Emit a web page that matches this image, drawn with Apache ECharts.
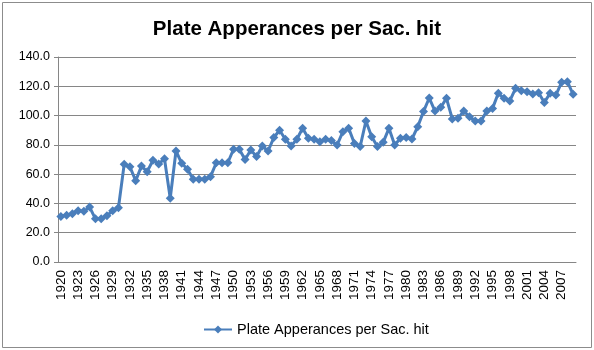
<!DOCTYPE html>
<html><head><meta charset="utf-8">
<script src="https://cdn.jsdelivr.net/npm/echarts@6/dist/echarts.min.js"></script>
<style>html,body{margin:0;padding:0;background:#fff}#c{width:594px;height:350px}</style>
</head><body><div id="c"></div>
<script>
const title = 'Plate Apperances per Sac. hit';
const seriesName = 'Plate Apperances per Sac. hit';
const years = [];
for (let y = 1920; y <= 2009; y++) years.push(String(y));
const values = [
  31, 32, 33, 35, 34.6, 37.5, 29.5, 29.5, 31.6, 35,
  37, 66.7, 65, 55.5, 65.5, 61.7, 69.5, 67, 70.5, 43.5,
  75.8, 67.4, 63.3, 56.5, 56.5, 56.5, 58.3, 67.8, 67.8, 67.8,
  77, 77, 70, 76.5, 72, 79.2, 75.8, 85, 90, 83.8,
  79.2, 83.8, 91.3, 84.5, 83.8, 82.2, 83.8, 82.9, 79.9, 89,
  91.3, 81, 78.8, 96.3, 85.6, 78.8, 81.7, 91.3, 79.9, 84.5,
  85.1, 84, 92.4, 102.7, 112, 103.1, 105.6, 111.8, 97.7, 98.1,
  103.1, 99.2, 96.3, 96.3, 103.1, 104.9, 115.2, 111.8, 110, 118.6,
  117, 116.3, 114.7, 115.6, 109, 115.2, 114, 122.7, 123.1, 114.5
];
const yTicks = {min: 0, max: 140, interval: 20};

const chart = echarts.init(document.getElementById('c'), null, {renderer: 'canvas'});
const grey = '#868686';
const blue = '#4A7EBB';
chart.setOption({
  animation: false,
  backgroundColor: '#fff',
  graphic: [{type: 'rect', shape: {x: 2.5, y: 2.5, width: 589, height: 345}, style: {fill: 'none', stroke: '#8c8c8c', lineWidth: 1}, z: -1}],
  title: {text: title, left: 'center', top: 14,
    textStyle: {fontFamily: 'Liberation Sans', fontWeight: 'bold', fontSize: 20.5, color: '#000'}},
  grid: {left: 58, right: 18, top: 57, bottom: 88},
  legend: {data: [seriesName], left: 198, top: 317, itemWidth: 28, itemHeight: 10, itemGap: 4,
    textStyle: {fontFamily: 'Liberation Sans', fontSize: 14.5, color: '#000'}},
  xAxis: {type: 'category', data: years, boundaryGap: true,
    axisLine: {lineStyle: {color: grey}},
    axisTick: {interval: 0, length: 5, lineStyle: {color: grey}},
    axisLabel: {interval: 2, rotate: 90, margin: 8, fontFamily: 'Liberation Sans', fontSize: 13.5, color: '#000'}},
  yAxis: {type: 'value', min: yTicks.min, max: yTicks.max, interval: yTicks.interval,
    axisLine: {show: true, lineStyle: {color: grey}},
    axisTick: {show: true, length: 4, lineStyle: {color: grey}},
    splitLine: {lineStyle: {color: grey}},
    axisLabel: {formatter: v => v.toFixed(1), margin: 8, fontFamily: 'Liberation Sans', fontSize: 12.5, color: '#000'}},
  series: [{name: seriesName, type: 'line', data: values, symbol: 'diamond', symbolSize: 9, showAllSymbol: true,
    lineStyle: {color: blue, width: 3}, itemStyle: {color: blue}}]
});
</script></body></html>
